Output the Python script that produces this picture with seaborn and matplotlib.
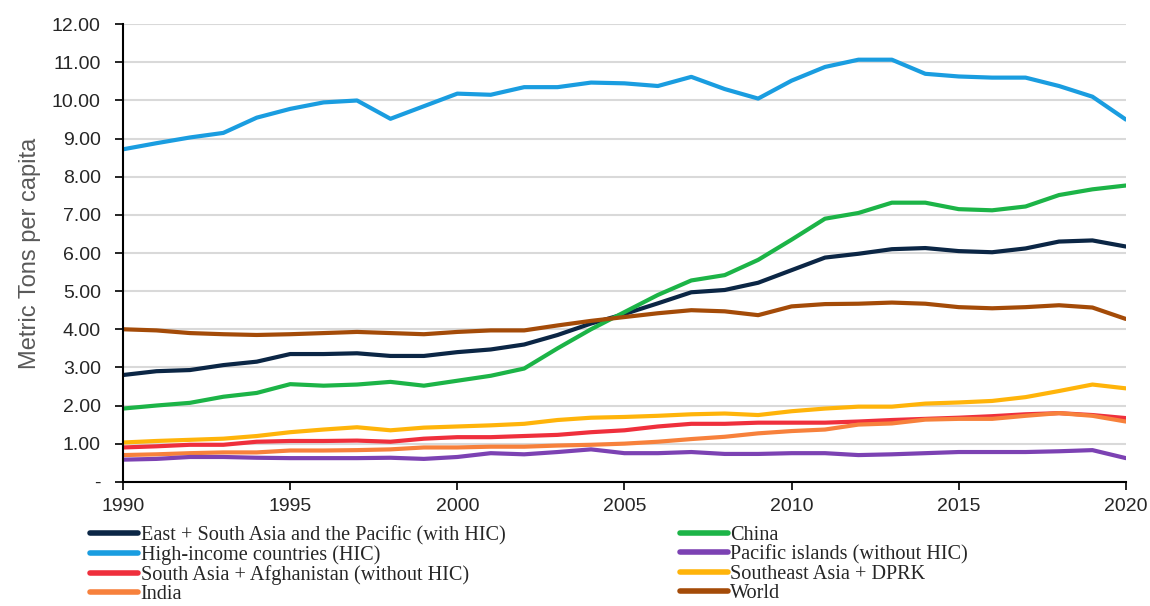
import numpy as np
import pandas as pd
import seaborn as sns
import matplotlib.pyplot as plt

# Years on the x axis
years = list(range(1990, 2021))

# Series values (metric tons per capita)
east_south_asia = [2.80, 2.90, 2.93, 3.06, 3.15, 3.35, 3.35, 3.37, 3.30, 3.30, 3.40, 3.47, 3.60, 3.85, 4.15,
                   4.40, 4.68, 4.97, 5.03, 5.22, 5.55, 5.88, 5.98, 6.10, 6.13, 6.05, 6.02, 6.12, 6.30, 6.33, 6.17]
high_income = [8.72, 8.88, 9.03, 9.15, 9.55, 9.78, 9.95, 10.00, 9.52, 9.85, 10.18, 10.15, 10.35, 10.35, 10.47,
               10.45, 10.38, 10.62, 10.30, 10.05, 10.52, 10.88, 11.07, 11.07, 10.70, 10.63, 10.60, 10.60, 10.38, 10.10, 9.50]
south_asia = [0.90, 0.93, 0.97, 0.97, 1.05, 1.07, 1.07, 1.08, 1.05, 1.13, 1.17, 1.17, 1.20, 1.23, 1.30,
              1.35, 1.45, 1.52, 1.52, 1.55, 1.55, 1.55, 1.58, 1.62, 1.65, 1.68, 1.72, 1.77, 1.80, 1.75, 1.67]
india = [0.70, 0.72, 0.75, 0.77, 0.77, 0.82, 0.82, 0.83, 0.85, 0.90, 0.90, 0.92, 0.92, 0.95, 0.97,
         1.00, 1.05, 1.12, 1.18, 1.27, 1.33, 1.37, 1.50, 1.53, 1.63, 1.65, 1.65, 1.73, 1.80, 1.73, 1.58]
china = [1.92, 2.00, 2.07, 2.23, 2.33, 2.56, 2.52, 2.55, 2.62, 2.52, 2.65, 2.78, 2.97, 3.50, 4.00,
         4.45, 4.90, 5.28, 5.42, 5.82, 6.35, 6.90, 7.05, 7.32, 7.32, 7.15, 7.12, 7.22, 7.52, 7.67, 7.77]
pacific = [0.58, 0.60, 0.65, 0.65, 0.63, 0.62, 0.62, 0.62, 0.63, 0.60, 0.65, 0.75, 0.72, 0.78, 0.85,
           0.75, 0.75, 0.78, 0.73, 0.73, 0.75, 0.75, 0.70, 0.72, 0.75, 0.78, 0.78, 0.78, 0.80, 0.83, 0.62]
southeast_asia = [1.03, 1.07, 1.10, 1.13, 1.20, 1.30, 1.37, 1.43, 1.35, 1.42, 1.45, 1.48, 1.52, 1.62, 1.68,
                  1.70, 1.73, 1.77, 1.79, 1.75, 1.85, 1.92, 1.97, 1.97, 2.05, 2.08, 2.12, 2.22, 2.38, 2.55, 2.45]
world = [4.00, 3.97, 3.90, 3.87, 3.85, 3.87, 3.90, 3.93, 3.90, 3.87, 3.93, 3.97, 3.97, 4.10, 4.22,
         4.32, 4.42, 4.50, 4.47, 4.37, 4.60, 4.66, 4.67, 4.70, 4.67, 4.58, 4.55, 4.58, 4.63, 4.57, 4.27]

series_names = ["East + South Asia and the Pacific (with HIC)", "High-income countries (HIC)",
                "South Asia + Afghanistan (without HIC)", "India", "China", "Pacific islands (without HIC)",
                "Southeast Asia + DPRK", "World"]
series_values = [east_south_asia, high_income, south_asia, india, china, pacific, southeast_asia, world]
colors = ["#0b2645", "#1a9de0", "#ef2f3c", "#f7813c", "#1cb447", "#7c42b3", "#ffb40a", "#a44b08"]

# Long format table for seaborn
rows = []
for name, vals in zip(series_names, series_values):
    for yr, v in zip(years, vals):
        rows.append({"Year": yr, "Value": v, "Series": name})
df = pd.DataFrame(rows)

sns.set_style("white")
plt.rcParams['font.family'] = ['Liberation Sans', 'DejaVu Sans']

fig = plt.figure(figsize=(11.5, 6.06), dpi=100)
ax = fig.add_axes([0.107, 0.205, 0.872, 0.755])

sns.lineplot(data=df, x="Year", y="Value", hue="Series", hue_order=series_names,
             palette=dict(zip(series_names, colors)), linewidth=3, ax=ax, legend=False)

ax.set_xlim(1990, 2020)
ax.set_ylim(0, 12)
ax.set_xticks(range(1990, 2021, 5))
ax.set_yticks(np.arange(0, 13, 1))
ax.set_yticklabels(["-"] + [f"{v:.2f}" for v in range(1, 13)])
ax.tick_params(axis="both", labelsize=14, colors="#000000", direction="out", length=6, width=1.2,
               left=True, bottom=True, labelcolor="#262626")
ax.tick_params(axis="x", pad=6)
ax.tick_params(axis="y", pad=10)
ax.yaxis.grid(True, color="#d9d9d9", linewidth=1.5)
ax.set_axisbelow(True)
for side in ["top", "right"]:
    ax.spines[side].set_visible(False)
for side in ["left", "bottom"]:
    ax.spines[side].set_color("black")
    ax.spines[side].set_linewidth(1.5)

ax.set_xlabel("")
ax.set_ylabel("Metric Tons per capita", fontsize=17, color="#595959", labelpad=8)

handles = [plt.Line2D([0], [0], color=c, linewidth=4, solid_capstyle="round") for c in colors]
ax.legend(handles, series_names, ncol=2, loc="upper left", bbox_to_anchor=(-0.041, -0.078),
          frameon=False, prop={"family": "Liberation Serif", "size": 14.6}, handlelength=2.37,
          handletextpad=0.12, labelspacing=0.0, columnspacing=8.6, borderaxespad=0)

plt.savefig("out.png", dpi=100)
